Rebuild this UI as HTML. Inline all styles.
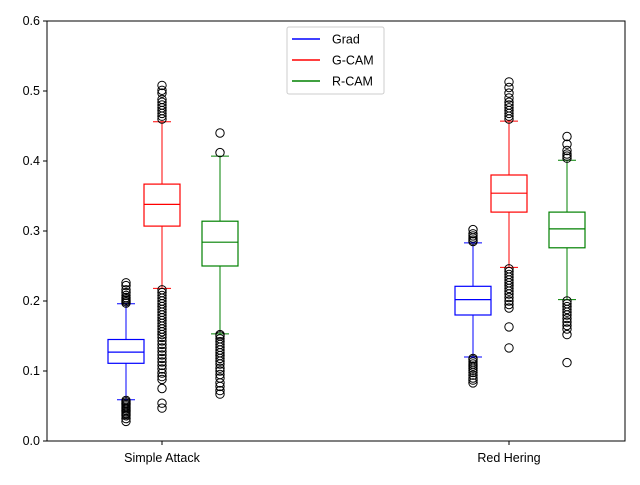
<!DOCTYPE html>
<html><head><meta charset="utf-8"><style>
html,body{margin:0;padding:0;background:#fff}
svg text{font-family:"Liberation Sans","DejaVu Sans",sans-serif}
</style></head><body>
<svg id="chart" width="640" height="480" viewBox="0 0 640 480" xmlns="http://www.w3.org/2000/svg">
<rect x="0" y="0" width="640" height="480" fill="#fff"/>
<g id="plot"></g>
<g id="axes"></g>
<g id="legend"></g>
</svg>
<script>
const groups = ["Simple Attack", "Red Hering"];
const seriesNames = ["Grad", "G-CAM", "R-CAM"];
const seriesColors = ["blue", "red", "green"];
const yTicks = [0.0, 0.1, 0.2, 0.3, 0.4, 0.5, 0.6];
const yTickLabels = ["0.0", "0.1", "0.2", "0.3", "0.4", "0.5", "0.6"];
// [whiskerLow, q1, median, q3, whiskerHigh] per group per series
const gradStats = [[0.059, 0.111, 0.127, 0.145, 0.196], [0.120, 0.180, 0.202, 0.221, 0.283]];
const gcamStats = [[0.218, 0.307, 0.338, 0.367, 0.456], [0.248, 0.327, 0.354, 0.380, 0.457]];
const rcamStats = [[0.153, 0.250, 0.284, 0.314, 0.407], [0.202, 0.276, 0.303, 0.327, 0.401]];
const gradOutliers = [
 [0.028,0.032,0.036,0.038,0.040,0.042,0.044,0.046,0.048,0.050,0.052,0.054,0.056,0.058,0.197,0.199,0.201,0.203,0.205,0.208,0.212,0.216,0.222,0.226],
 [0.083,0.087,0.090,0.094,0.098,0.101,0.104,0.107,0.110,0.113,0.116,0.118,0.285,0.287,0.290,0.293,0.296,0.302]
];
const gcamOutliers = [
 [0.047,0.054,0.075,0.088,0.092,0.097,0.103,0.108,0.113,0.118,0.123,0.128,0.133,0.138,0.143,0.148,0.152,0.156,0.160,0.164,0.168,0.172,0.176,0.180,0.184,0.188,0.192,0.196,0.200,0.204,0.208,0.212,0.216,0.460,0.464,0.468,0.472,0.476,0.480,0.484,0.488,0.497,0.501,0.508],
 [0.133,0.163,0.190,0.195,0.200,0.205,0.210,0.214,0.218,0.222,0.226,0.230,0.234,0.238,0.242,0.246,0.460,0.464,0.468,0.472,0.476,0.480,0.484,0.490,0.497,0.505,0.513]
];
const rcamOutliers = [
 [0.067,0.072,0.078,0.083,0.090,0.095,0.100,0.104,0.110,0.114,0.118,0.122,0.126,0.130,0.134,0.138,0.142,0.146,0.150,0.152,0.412,0.440],
 [0.112,0.152,0.160,0.165,0.170,0.175,0.180,0.184,0.188,0.192,0.196,0.200,0.404,0.407,0.410,0.415,0.424,0.435]
];
const allStats = [gradStats, gcamStats, rcamStats];
const allOutliers = [gradOutliers, gcamOutliers, rcamOutliers];

const NS = "http://www.w3.org/2000/svg";
const L = 47, R = 625, T = 21, B = 441;
const yMin = 0, yMax = 0.6;
function yScale(v){ return B - (v - yMin) / (yMax - yMin) * (B - T); }
const groupCenters = [162, 509];
const seriesOffset = [-36, 0, 58];
const boxW = 36;
function xPos(g, s){ return groupCenters[g] + seriesOffset[s]; }
function mk(tag, attrs, parent){
  const e = document.createElementNS(NS, tag);
  for (const k in attrs) e.setAttribute(k, attrs[k]);
  parent.appendChild(e); return e;
}
const plot = document.getElementById('plot');
for (let s = 0; s < 3; s++){
  for (let g = 0; g < 2; g++){
    const st = allStats[s][g], c = seriesColors[s], x = xPos(g, s);
    const box = document.createElementNS(NS, 'g');
    
    
    plot.appendChild(box);
    const yl = yScale(st[0]), y1 = yScale(st[1]), ym = yScale(st[2]), y3 = yScale(st[3]), yh = yScale(st[4]);
    mk('line', {x1:x, x2:x, y1:yl, y2:y1, stroke:c, 'stroke-width':1}, box);
    mk('line', {x1:x, x2:x, y1:y3, y2:yh, stroke:c, 'stroke-width':1}, box);
    mk('line', {x1:x-boxW/4, x2:x+boxW/4, y1:yl, y2:yl, stroke:c, 'stroke-width':1}, box);
    mk('line', {x1:x-boxW/4, x2:x+boxW/4, y1:yh, y2:yh, stroke:c, 'stroke-width':1}, box);
    mk('rect', {x:x-boxW/2, y:y3, width:boxW, height:y1-y3, fill:'none', stroke:c, 'stroke-width':1.2}, box);
    mk('line', {x1:x-boxW/2, x2:x+boxW/2, y1:ym, y2:ym, stroke:c, 'stroke-width':1.2}, box);
    for (const v of allOutliers[s][g]){
      const o = mk('circle', {cx:x, cy:yScale(v), r:4.2, fill:'none', stroke:'#000', 'stroke-width':1}, box);
      
      
    }
  }
}
const axes = document.getElementById('axes');
mk('rect', {x:L, y:T, width:R-L, height:B-T, fill:'none', stroke:'#000', 'stroke-width':1}, axes);
yTicks.forEach((v, i) => {
  const y = yScale(v);
  mk('line', {x1:L-4, x2:L, y1:y, y2:y, stroke:'#000'}, axes);
  const t = mk('text', {x:L-7, y:y+4, 'text-anchor':'end', 'font-size':12.5, fill:'#000'}, axes);
  t.textContent = yTickLabels[i];
  
  
});
groups.forEach((gName, g) => {
  const x = groupCenters[g];
  mk('line', {x1:x, x2:x, y1:B, y2:B+4, stroke:'#000'}, axes);
  const t = mk('text', {x:x, y:B+21, 'text-anchor':'middle', 'font-size':12.5, fill:'#000'}, axes);
  t.textContent = gName;
  
  
});
const leg = document.getElementById('legend');
mk('rect', {x:287, y:27, width:97, height:67, rx:2, fill:'#fff', 'fill-opacity':0.8, stroke:'#ccc'}, leg);
seriesNames.forEach((n, i) => {
  const y = 39 + i * 21;
  const e = mk('g', {}, leg);
  
  
  mk('line', {x1:292, x2:320, y1:y, y2:y, stroke:seriesColors[i], 'stroke-width':1.5}, e);
  const t = mk('text', {x:332, y:y+4.5, 'font-size':12.5, fill:'#000'}, e);
  t.textContent = n;
});
</script>
</body></html>
